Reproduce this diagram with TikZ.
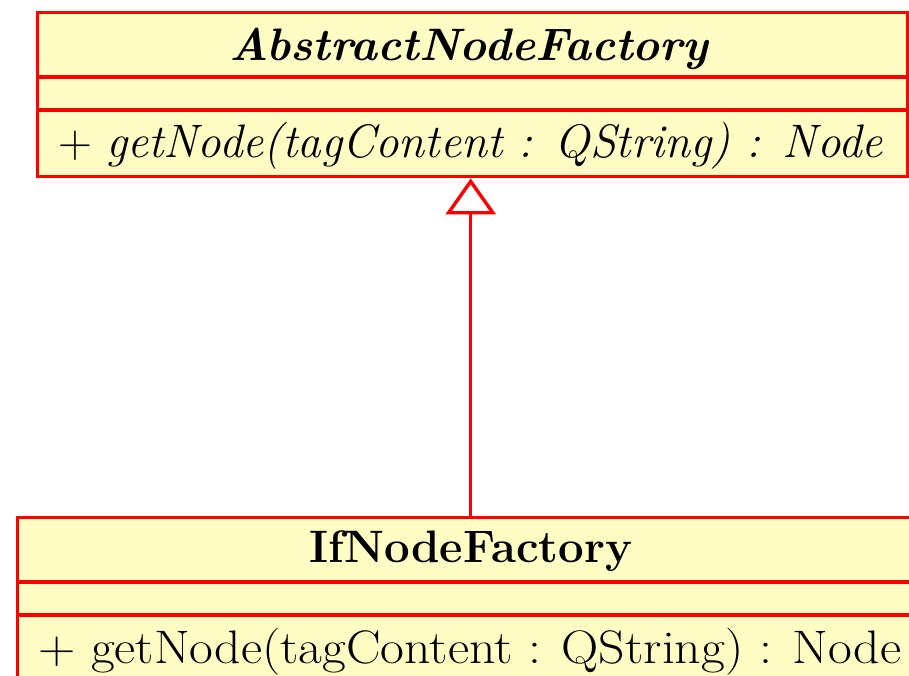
\documentclass[tikz,border=0pt]{standalone}
\usetikzlibrary{arrows.meta}
\definecolor{umlfill}{RGB}{255,252,196}
\definecolor{umlred}{RGB}{255,0,0}
\begin{document}
\begin{tikzpicture}[x=1pt,y=-1pt,
  box/.style={draw=umlred,fill=umlfill,line width=3.4pt,rectangle,inner sep=0pt,anchor=north west},
  divider/.style={draw=umlred,line width=3.4pt},
  txt/.style={inner sep=0pt,font=\fontsize{47}{52}\selectfont},
  ttl/.style={inner sep=0pt,font=\fontsize{45.5}{50}\selectfont},
  inherit/.style={draw=umlred,line width=3.4pt,-{Triangle[open,length=36pt,width=50pt,fill=white]}}]
\useasboundingbox (0,0) rectangle (909,675);
\begin{scope}
\clip (0,0) rectangle (909,675);
% AbstractNodeFactory
\node[box,minimum width=870pt,minimum height=164pt] (abs) at (36,11) {};
\draw[divider] (abs.west |- 0,77) -- (abs.east |- 0,77);
\draw[divider] (abs.west |- 0,110) -- (abs.east |- 0,110);
\node[ttl,anchor=base] (absname) at (469,60) {\bfseries\itshape AbstractNodeFactory};
\node[txt,anchor=base west] (absop) at (58,157) {+ \itshape getNode(tagContent : QString) : Node};
% IfNodeFactory
\node[box,minimum width=906pt,minimum height=200pt] (ifn) at (16,516) {};
\draw[divider] (ifn.west |- 0,582) -- (ifn.east |- 0,582);
\draw[divider] (ifn.west |- 0,615) -- (ifn.east |- 0,615);
\node[ttl,anchor=base] (ifnname) at (471,562) {\bfseries IfNodeFactory};
\node[txt,anchor=base west] (ifnop) at (38,663) {\scalebox{1.1}[1]{+ getNode(tagContent : QString) : Node}};
\end{scope}
\draw[inherit] (ifn.north) -- (ifn.north |- abs.south);
\end{tikzpicture}
\end{document}
